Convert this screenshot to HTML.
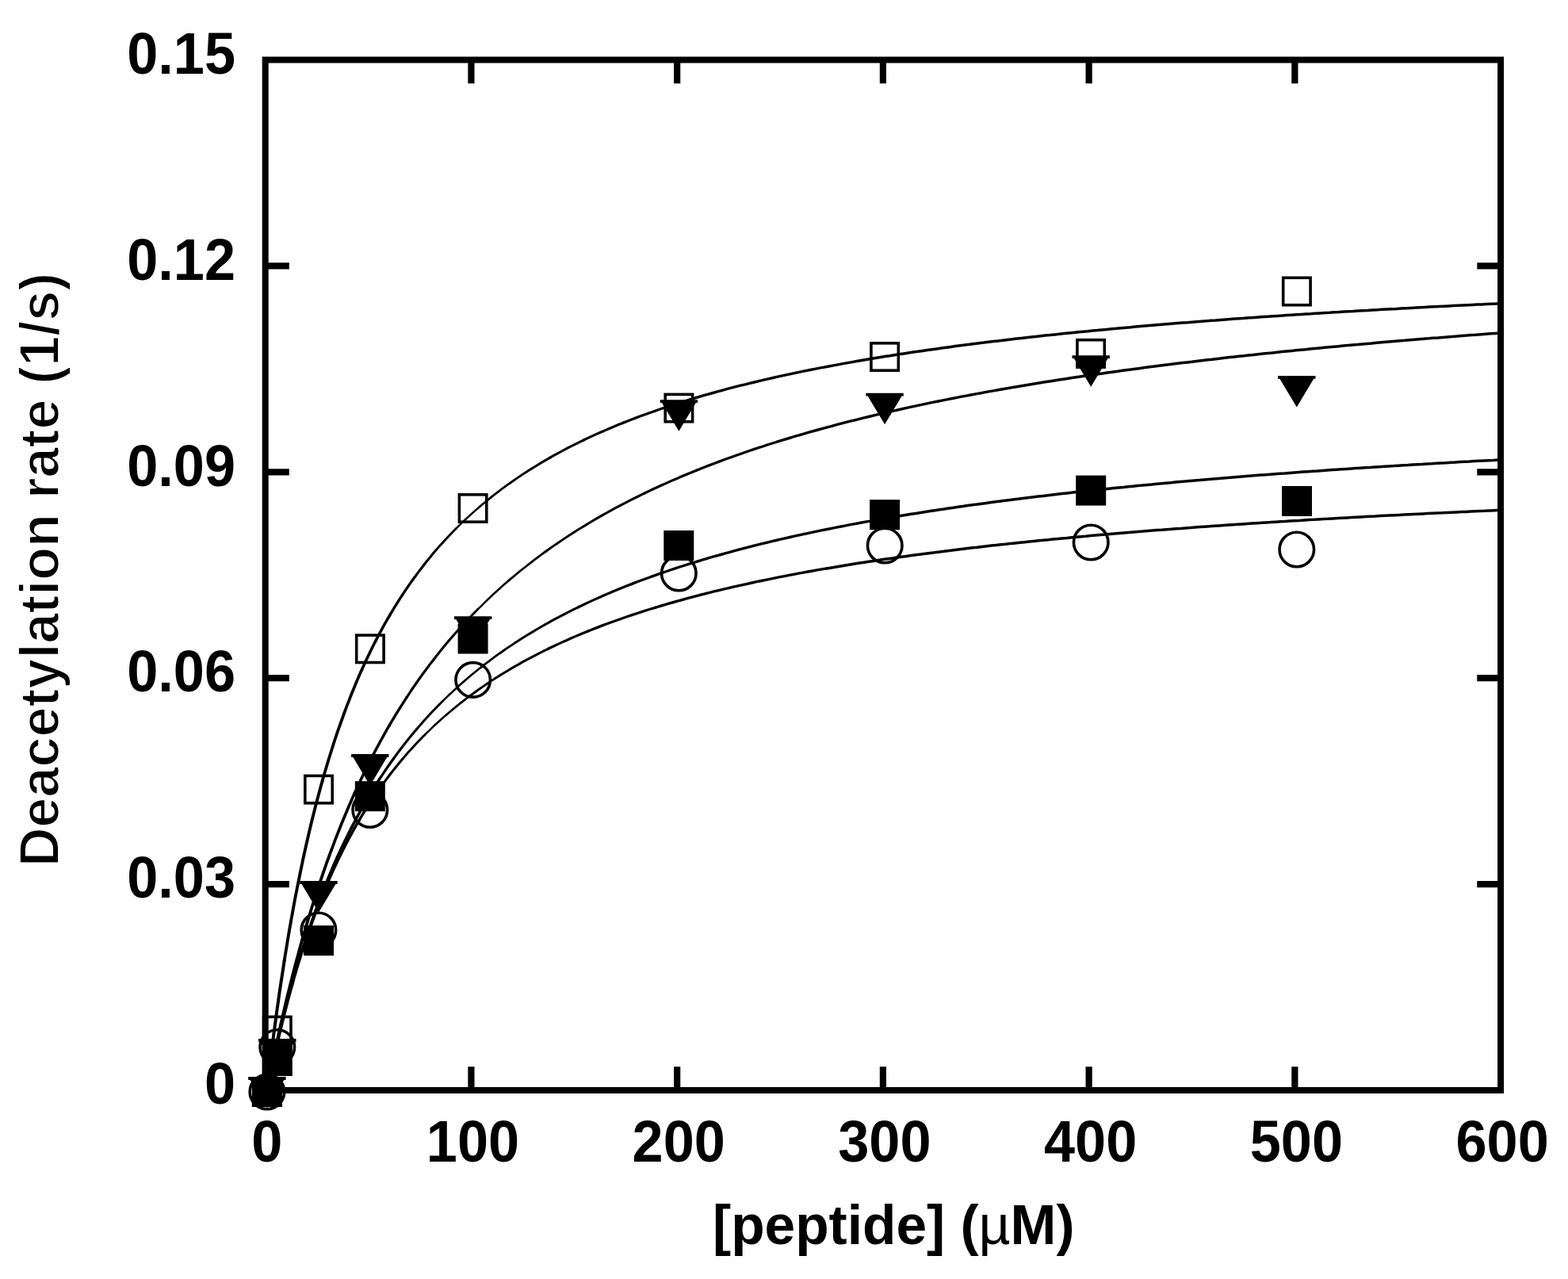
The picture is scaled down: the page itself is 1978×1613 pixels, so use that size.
<!DOCTYPE html>
<html><head><meta charset="utf-8"><title>Deacetylation rate vs peptide</title>
<style>html,body{margin:0;padding:0;background:#fff;width:1978px;height:1613px;overflow:hidden}svg{display:block}</style>
</head><body>
<svg width="1978" height="1613" viewBox="0 0 1978 1613">
<rect x="0" y="0" width="1978" height="1613" fill="#fff"/>
<g fill="none" stroke="#000" stroke-linecap="round">
<path stroke-width="2.5" d="M575.0 666.9L579.3 662.7M579.3 662.7L583.6 658.5M583.6 658.5L587.9 654.4M602.6 768.5L606.9 764.3M606.9 764.3L611.1 760.1M611.1 760.1L615.4 756.0M615.4 756.0L619.8 751.8M558.2 884.5L562.4 880.3M562.4 880.3L566.7 876.2M536.1 926.5L540.4 922.3M540.4 922.3L544.7 918.1M544.7 918.1L549.0 914.0"/>
<path stroke-width="2.6" d="M587.9 654.4L592.3 650.4M592.3 650.4L596.7 646.4M596.7 646.4L601.2 642.4M601.2 642.4L605.7 638.5M619.8 751.8L624.2 747.8M624.2 747.8L628.6 743.8M628.6 743.8L633.0 739.8M633.0 739.8L637.5 735.8M637.5 735.8L642.0 731.9M566.7 876.2L571.1 872.1M571.1 872.1L575.5 868.0M575.5 868.0L579.9 864.0M579.9 864.0L584.4 860.1M549.0 914.0L553.4 910.0M553.4 910.0L557.9 906.0M557.9 906.0L562.3 902.1"/>
<path stroke-width="2.7" d="M605.7 638.5L610.2 634.7M610.2 634.7L614.9 630.9M614.9 630.9L619.5 627.1M642.0 731.9L646.6 728.1M646.6 728.1L651.2 724.2M651.2 724.2L655.8 720.4M655.8 720.4L660.5 716.7M660.5 716.7L665.2 713.0M584.4 860.1L588.9 856.2M588.9 856.2L593.5 852.3M593.5 852.3L598.1 848.5M598.1 848.5L602.7 844.8M602.7 844.8L607.4 841.1M562.3 902.1L566.9 898.2M566.9 898.2L571.5 894.4M571.5 894.4L576.1 890.6M576.1 890.6L580.7 886.8"/>
<path stroke-width="2.8" d="M619.5 627.1L624.2 623.4M624.2 623.4L628.9 619.8M628.9 619.8L633.7 616.2M633.7 616.2L638.5 612.7M638.5 612.7L643.4 609.2M598.4 772.7L602.6 768.5M665.2 713.0L669.9 709.3M669.9 709.3L674.6 705.7M674.6 705.7L679.4 702.1M679.4 702.1L684.2 698.5M684.2 698.5L689.1 695.0M553.9 888.7L558.2 884.5M607.4 841.1L612.1 837.4M612.1 837.4L616.9 833.8M616.9 833.8L621.7 830.2M621.7 830.2L626.5 826.7M626.5 826.7L631.4 823.2M531.9 930.7L536.1 926.5M580.7 886.8L585.5 883.2M585.5 883.2L590.2 879.5M590.2 879.5L595.0 876.0M595.0 876.0L599.8 872.5"/>
<path stroke-width="2.9" d="M558.6 684.2L562.6 679.8M562.6 679.8L566.7 675.4M566.7 675.4L570.9 671.1M570.9 671.1L575.0 666.9M643.4 609.2L648.3 605.7M648.3 605.7L653.2 602.4M653.2 602.4L658.2 599.0M658.2 599.0L663.2 595.8M663.2 595.8L668.2 592.5M582.0 790.1L586.1 785.7M586.1 785.7L590.2 781.3M590.2 781.3L594.3 777.0M594.3 777.0L598.4 772.7M689.1 695.0L693.9 691.5M693.9 691.5L698.8 688.1M698.8 688.1L703.8 684.7M703.8 684.7L708.7 681.4M708.7 681.4L713.7 678.0M713.7 678.0L718.7 674.8M718.7 674.8L723.8 671.5M537.5 906.0L541.6 901.6M541.6 901.6L545.6 897.3M545.6 897.3L549.8 893.0M549.8 893.0L553.9 888.7M631.4 823.2L636.3 819.8M636.3 819.8L641.2 816.4M641.2 816.4L646.2 813.1M646.2 813.1L651.2 809.8M651.2 809.8L656.2 806.5M519.7 943.7L523.7 939.3M523.7 939.3L527.8 935.0M527.8 935.0L531.9 930.7M599.8 872.5L604.7 869.0M604.7 869.0L609.6 865.6M609.6 865.6L614.5 862.2M614.5 862.2L619.5 858.9M619.5 858.9L624.5 855.6"/>
<path stroke-width="3.0" d="M546.8 697.6L550.7 693.1M550.7 693.1L554.6 688.6M554.6 688.6L558.6 684.2M668.2 592.5L673.3 589.4M673.3 589.4L678.4 586.2M678.4 586.2L683.5 583.1M683.5 583.1L688.7 580.1M688.7 580.1L693.9 577.1M566.3 808.0L570.1 803.5M570.1 803.5L574.1 799.0M574.1 799.0L578.0 794.5M578.0 794.5L582.0 790.1M723.8 671.5L728.8 668.3M728.8 668.3L733.9 665.2M733.9 665.2L739.0 662.1M739.0 662.1L744.1 659.0M744.1 659.0L749.3 655.9M749.3 655.9L754.5 652.9M754.5 652.9L759.7 649.9M525.7 919.4L529.6 914.9M529.6 914.9L533.5 910.5M533.5 910.5L537.5 906.0M656.2 806.5L661.3 803.3M661.3 803.3L666.3 800.2M666.3 800.2L671.5 797.1M671.5 797.1L676.6 794.0M676.6 794.0L681.8 791.0M681.8 791.0L687.0 788.0M507.9 957.1L511.7 952.6M511.7 952.6L515.7 948.1M515.7 948.1L519.7 943.7M624.5 855.6L629.6 852.4M629.6 852.4L634.7 849.3M634.7 849.3L639.8 846.2M639.8 846.2L644.9 843.1M644.9 843.1L650.1 840.1M650.1 840.1L655.3 837.2"/>
<path stroke-width="3.1" d="M535.5 711.5L539.2 706.8M539.2 706.8L543.0 702.2M543.0 702.2L546.8 697.6M693.9 577.1L699.1 574.2M699.1 574.2L704.3 571.3M704.3 571.3L709.6 568.5M709.6 568.5L714.9 565.7M714.9 565.7L720.2 562.9M720.2 562.9L725.5 560.3M725.5 560.3L730.9 557.6M730.9 557.6L736.3 555.0M547.5 831.2L551.1 826.5M551.1 826.5L554.9 821.8M554.9 821.8L558.6 817.2M558.6 817.2L562.4 812.6M562.4 812.6L566.3 808.0M759.7 649.9L764.9 647.0M764.9 647.0L770.1 644.1M770.1 644.1L775.4 641.2M775.4 641.2L780.7 638.4M780.7 638.4L786.0 635.6M786.0 635.6L791.3 632.9M791.3 632.9L796.6 630.1M796.6 630.1L802.0 627.5M802.0 627.5L807.3 624.8M807.3 624.8L812.7 622.2M510.6 937.9L514.3 933.2M514.3 933.2L518.1 928.6M518.1 928.6L521.9 924.0M521.9 924.0L525.7 919.4M687.0 788.0L692.2 785.1M692.2 785.1L697.4 782.2M697.4 782.2L702.7 779.4M702.7 779.4L708.0 776.6M708.0 776.6L713.3 773.8M713.3 773.8L718.6 771.1M718.6 771.1L724.0 768.4M724.0 768.4L729.4 765.8M492.9 975.6L496.5 971.0M496.5 971.0L500.3 966.3M500.3 966.3L504.0 961.7M504.0 961.7L507.9 957.1M655.3 837.2L660.5 834.2M660.5 834.2L665.8 831.4M665.8 831.4L671.1 828.6M671.1 828.6L676.4 825.8M676.4 825.8L681.7 823.1M681.7 823.1L687.1 820.4M687.1 820.4L692.4 817.8"/>
<path stroke-width="3.2" d="M521.2 730.5L524.7 725.7M524.7 725.7L528.3 720.9M528.3 720.9L531.9 716.2M531.9 716.2L535.5 711.5M736.3 555.0L741.7 552.4M741.7 552.4L747.1 549.9M747.1 549.9L752.6 547.4M752.6 547.4L758.1 545.0M758.1 545.0L763.6 542.6M763.6 542.6L769.1 540.2M769.1 540.2L774.6 537.9M774.6 537.9L780.1 535.6M780.1 535.6L785.7 533.4M529.6 855.1L533.1 850.3M533.1 850.3L536.6 845.5M536.6 845.5L540.2 840.7M540.2 840.7L543.8 835.9M543.8 835.9L547.5 831.2M812.7 622.2L818.1 619.6M818.1 619.6L823.5 617.0M823.5 617.0L829.0 614.5M829.0 614.5L834.4 612.0M834.4 612.0L839.9 609.6M839.9 609.6L845.4 607.1M845.4 607.1L850.9 604.7M850.9 604.7L856.4 602.4M856.4 602.4L861.9 600.0M861.9 600.0L867.4 597.7M867.4 597.7L873.0 595.4M873.0 595.4L878.5 593.2M496.3 957.0L499.8 952.1M499.8 952.1L503.3 947.4M503.3 947.4L507.0 942.6M507.0 942.6L510.6 937.9M729.4 765.8L734.8 763.2M734.8 763.2L740.2 760.6M740.2 760.6L745.6 758.1M745.6 758.1L751.1 755.6M751.1 755.6L756.6 753.2M756.6 753.2L762.0 750.8M762.0 750.8L767.5 748.4M767.5 748.4L773.1 746.1M773.1 746.1L778.6 743.8M778.6 743.8L784.1 741.5M784.1 741.5L789.7 739.3M482.2 990.0L485.7 985.1M485.7 985.1L489.2 980.4M489.2 980.4L492.9 975.6M692.4 817.8L697.8 815.2M697.8 815.2L703.3 812.6M703.3 812.6L708.7 810.1M708.7 810.1L714.2 807.7M714.2 807.7L719.6 805.3M719.6 805.3L725.1 802.9M725.1 802.9L730.7 800.5M730.7 800.5L736.2 798.2M736.2 798.2L741.7 796.0"/>
<path stroke-width="3.3" d="M507.7 750.1L511.0 745.2M511.0 745.2L514.3 740.3M514.3 740.3L517.7 735.4M517.7 735.4L521.2 730.5M785.7 533.4L791.2 531.2M791.2 531.2L796.8 529.0M796.8 529.0L802.4 526.9M802.4 526.9L808.0 524.8M808.0 524.8L813.7 522.7M813.7 522.7L819.3 520.7M819.3 520.7L825.0 518.7M825.0 518.7L830.6 516.7M830.6 516.7L836.3 514.8M836.3 514.8L842.0 512.9M842.0 512.9L847.7 511.0M847.7 511.0L853.4 509.2M853.4 509.2L859.1 507.3M859.1 507.3L864.8 505.6M864.8 505.6L870.6 503.8M512.8 879.8L516.1 874.8M516.1 874.8L519.4 869.8M519.4 869.8L522.8 864.9M522.8 864.9L526.2 860.0M526.2 860.0L529.6 855.1M878.5 593.2L884.1 591.0M884.1 591.0L889.7 588.8M889.7 588.8L895.3 586.6M895.3 586.6L900.9 584.5M900.9 584.5L906.5 582.4M906.5 582.4L912.1 580.3M912.1 580.3L917.7 578.2M917.7 578.2L923.4 576.2M923.4 576.2L929.0 574.2M929.0 574.2L934.7 572.2M934.7 572.2L940.3 570.3M940.3 570.3L946.0 568.3M946.0 568.3L951.7 566.4M951.7 566.4L957.4 564.5M957.4 564.5L963.1 562.7M963.1 562.7L968.8 560.8M968.8 560.8L974.5 559.0M974.5 559.0L980.2 557.2M980.2 557.2L986.0 555.4M986.0 555.4L991.7 553.7M479.4 981.5L482.7 976.6M482.7 976.6L486.0 971.6M486.0 971.6L489.4 966.7M489.4 966.7L492.8 961.8M492.8 961.8L496.3 957.0M789.7 739.3L795.3 737.1M795.3 737.1L800.9 734.9M800.9 734.9L806.5 732.8M806.5 732.8L812.1 730.7M812.1 730.7L817.7 728.7M817.7 728.7L823.4 726.6M823.4 726.6L829.0 724.6M829.0 724.6L834.7 722.6M834.7 722.6L840.3 720.7M840.3 720.7L846.0 718.8M846.0 718.8L851.7 716.9M851.7 716.9L857.4 715.0M857.4 715.0L863.1 713.2M863.1 713.2L868.8 711.4M868.8 711.4L874.6 709.6M874.6 709.6L880.3 707.9M468.6 1009.6L471.9 1004.6M471.9 1004.6L475.3 999.7M475.3 999.7L478.7 994.8M478.7 994.8L482.2 990.0M741.7 796.0L747.3 793.8M747.3 793.8L752.9 791.6M752.9 791.6L758.5 789.4M758.5 789.4L764.1 787.3M764.1 787.3L769.7 785.2M769.7 785.2L775.3 783.2M775.3 783.2L781.0 781.2M781.0 781.2L786.6 779.2M786.6 779.2L792.3 777.3M792.3 777.3L798.0 775.4M798.0 775.4L803.7 773.5M803.7 773.5L809.4 771.6M809.4 771.6L815.1 769.8M815.1 769.8L820.8 768.0M820.8 768.0L826.6 766.3"/>
<path stroke-width="3.4" d="M492.0 775.4L495.0 770.3M495.0 770.3L498.1 765.2M498.1 765.2L501.3 760.1M501.3 760.1L504.4 755.1M504.4 755.1L507.7 750.1M870.6 503.8L876.3 502.1M876.3 502.1L882.1 500.4M882.1 500.4L887.8 498.7M887.8 498.7L893.6 497.1M893.6 497.1L899.4 495.5M899.4 495.5L905.1 493.9M905.1 493.9L910.9 492.3M910.9 492.3L916.7 490.7M916.7 490.7L922.5 489.2M922.5 489.2L928.3 487.7M928.3 487.7L934.1 486.2M934.1 486.2L940.0 484.8M940.0 484.8L945.8 483.4M945.8 483.4L951.6 482.0M951.6 482.0L957.4 480.6M957.4 480.6L963.3 479.2M963.3 479.2L969.1 477.8M969.1 477.8L975.0 476.5M975.0 476.5L980.8 475.2M980.8 475.2L986.7 473.9M986.7 473.9L992.5 472.6M992.5 472.6L998.4 471.4M998.4 471.4L1004.3 470.1M1004.3 470.1L1010.1 468.9M1010.1 468.9L1016.0 467.7M1016.0 467.7L1021.9 466.5M1021.9 466.5L1027.8 465.4M1027.8 465.4L1033.7 464.2M1033.7 464.2L1039.6 463.1M1039.6 463.1L1045.5 462.0M1045.5 462.0L1051.4 460.9M1051.4 460.9L1057.3 459.8M1057.3 459.8L1063.2 458.7M1063.2 458.7L1069.1 457.6M1069.1 457.6L1075.0 456.6M1075.0 456.6L1080.9 455.5M1080.9 455.5L1086.8 454.5M490.9 915.3L493.9 910.1M493.9 910.1L497.0 905.0M497.0 905.0L500.1 899.9M500.1 899.9L503.2 894.8M503.2 894.8L506.4 889.8M506.4 889.8L509.6 884.8M509.6 884.8L512.8 879.8M991.7 553.7L997.4 552.0M997.4 552.0L1003.2 550.2M1003.2 550.2L1008.9 548.6M1008.9 548.6L1014.7 546.9M1014.7 546.9L1020.5 545.2M1020.5 545.2L1026.2 543.6M1026.2 543.6L1032.0 542.0M1032.0 542.0L1037.8 540.4M1037.8 540.4L1043.6 538.8M1043.6 538.8L1049.4 537.3M1049.4 537.3L1055.2 535.7M1055.2 535.7L1061.0 534.2M1061.0 534.2L1066.8 532.7M1066.8 532.7L1072.6 531.2M1072.6 531.2L1078.4 529.8M1078.4 529.8L1084.2 528.3M1084.2 528.3L1090.0 526.9M1090.0 526.9L1095.9 525.5M1095.9 525.5L1101.7 524.1M1101.7 524.1L1107.5 522.7M1107.5 522.7L1113.4 521.3M1113.4 521.3L1119.2 520.0M1119.2 520.0L1125.1 518.6M1125.1 518.6L1130.9 517.3M1130.9 517.3L1136.8 516.0M1136.8 516.0L1142.6 514.7M1142.6 514.7L1148.5 513.4M1148.5 513.4L1154.4 512.2M1154.4 512.2L1160.2 510.9M1160.2 510.9L1166.1 509.7M1166.1 509.7L1172.0 508.4M1172.0 508.4L1177.8 507.2M1177.8 507.2L1183.7 506.0M1183.7 506.0L1189.6 504.8M1189.6 504.8L1195.5 503.7M1195.5 503.7L1201.4 502.5M1201.4 502.5L1207.3 501.3M1207.3 501.3L1213.1 500.2M1213.1 500.2L1219.0 499.1M1219.0 499.1L1224.9 498.0M1224.9 498.0L1230.8 496.9M1230.8 496.9L1236.7 495.8M1236.7 495.8L1242.6 494.7M1242.6 494.7L1248.5 493.6M1248.5 493.6L1254.4 492.6M1254.4 492.6L1260.3 491.5M1260.3 491.5L1266.2 490.5M1266.2 490.5L1272.2 489.5M1272.2 489.5L1278.1 488.4M463.7 1006.8L466.8 1001.7M466.8 1001.7L469.9 996.6M469.9 996.6L473.0 991.6M473.0 991.6L476.2 986.5M476.2 986.5L479.4 981.5M880.3 707.9L886.0 706.1M886.0 706.1L891.8 704.4M891.8 704.4L897.5 702.7M897.5 702.7L903.3 701.1M903.3 701.1L909.1 699.5M909.1 699.5L914.8 697.8M914.8 697.8L920.6 696.3M920.6 696.3L926.4 694.7M926.4 694.7L932.2 693.1M932.2 693.1L938.0 691.6M938.0 691.6L943.8 690.1M943.8 690.1L949.6 688.6M949.6 688.6L955.4 687.2M955.4 687.2L961.3 685.7M961.3 685.7L967.1 684.3M967.1 684.3L972.9 682.9M972.9 682.9L978.8 681.5M978.8 681.5L984.6 680.2M984.6 680.2L990.4 678.8M990.4 678.8L996.3 677.5M996.3 677.5L1002.2 676.2M1002.2 676.2L1008.0 674.9M1008.0 674.9L1013.9 673.6M1013.9 673.6L1019.7 672.4M1019.7 672.4L1025.6 671.1M1025.6 671.1L1031.5 669.9M1031.5 669.9L1037.3 668.7M1037.3 668.7L1043.2 667.5M1043.2 667.5L1049.1 666.3M1049.1 666.3L1055.0 665.1M1055.0 665.1L1060.9 664.0M1060.9 664.0L1066.8 662.9M1066.8 662.9L1072.7 661.7M1072.7 661.7L1078.6 660.6M1078.6 660.6L1084.5 659.5M1084.5 659.5L1090.4 658.4M1090.4 658.4L1096.3 657.4M1096.3 657.4L1102.2 656.3M1102.2 656.3L1108.1 655.3M1108.1 655.3L1114.0 654.2M1114.0 654.2L1119.9 653.2M452.9 1034.8L455.9 1029.7M455.9 1029.7L459.0 1024.6M459.0 1024.6L462.2 1019.6M462.2 1019.6L465.4 1014.5M465.4 1014.5L468.6 1009.6M826.6 766.3L832.3 764.5M832.3 764.5L838.0 762.8M838.0 762.8L843.8 761.1M843.8 761.1L849.6 759.5M849.6 759.5L855.3 757.9M855.3 757.9L861.1 756.3M861.1 756.3L866.9 754.7M866.9 754.7L872.7 753.1M872.7 753.1L878.5 751.6M878.5 751.6L884.3 750.1M884.3 750.1L890.1 748.6M890.1 748.6L895.9 747.2M895.9 747.2L901.7 745.7M901.7 745.7L907.6 744.3M907.6 744.3L913.4 742.9M913.4 742.9L919.2 741.6M919.2 741.6L925.1 740.2M925.1 740.2L930.9 738.9M930.9 738.9L936.8 737.6M936.8 737.6L942.6 736.3M942.6 736.3L948.5 735.0M948.5 735.0L954.4 733.7M954.4 733.7L960.2 732.5M960.2 732.5L966.1 731.3M966.1 731.3L972.0 730.1M972.0 730.1L977.9 728.9M977.9 728.9L983.8 727.7M983.8 727.7L989.6 726.6M989.6 726.6L995.5 725.4M995.5 725.4L1001.4 724.3M1001.4 724.3L1007.3 723.2M1007.3 723.2L1013.2 722.1M1013.2 722.1L1019.1 721.0M1019.1 721.0L1025.0 720.0M1025.0 720.0L1030.9 718.9M1030.9 718.9L1036.8 717.9M1036.8 717.9L1042.7 716.9"/>
<path stroke-width="3.5" d="M474.7 806.6L477.5 801.4M477.5 801.4L480.3 796.1M480.3 796.1L483.1 790.9M483.1 790.9L486.0 785.7M486.0 785.7L489.0 780.5M489.0 780.5L492.0 775.4M1086.8 454.5L1092.7 453.5M1092.7 453.5L1098.6 452.5M1098.6 452.5L1104.5 451.5M1104.5 451.5L1110.5 450.6M1110.5 450.6L1116.4 449.6M1116.4 449.6L1122.3 448.7M1122.3 448.7L1128.2 447.7M1128.2 447.7L1134.2 446.8M1134.2 446.8L1140.1 445.9M1140.1 445.9L1146.0 445.0M1146.0 445.0L1151.9 444.1M1151.9 444.1L1157.9 443.3M1157.9 443.3L1163.8 442.4M1163.8 442.4L1169.8 441.5M1169.8 441.5L1175.7 440.7M1175.7 440.7L1181.6 439.9M1181.6 439.9L1187.6 439.0M1187.6 439.0L1193.5 438.2M1193.5 438.2L1199.5 437.4M1199.5 437.4L1205.4 436.6M1205.4 436.6L1211.4 435.8M1211.4 435.8L1217.3 435.1M1217.3 435.1L1223.3 434.3M1223.3 434.3L1229.2 433.5M1229.2 433.5L1235.2 432.8M1235.2 432.8L1241.1 432.1M1241.1 432.1L1247.1 431.3M1247.1 431.3L1253.0 430.6M1253.0 430.6L1259.0 429.9M1259.0 429.9L1264.9 429.2M1264.9 429.2L1270.9 428.5M1270.9 428.5L1276.9 427.8M1276.9 427.8L1282.8 427.1M1282.8 427.1L1288.8 426.4M1288.8 426.4L1294.7 425.7M1294.7 425.7L1300.7 425.1M1300.7 425.1L1306.7 424.4M1306.7 424.4L1312.6 423.8M1312.6 423.8L1318.6 423.1M1318.6 423.1L1324.6 422.5M1324.6 422.5L1330.5 421.9M1330.5 421.9L1336.5 421.3M1336.5 421.3L1342.5 420.6M1342.5 420.6L1348.4 420.0M1348.4 420.0L1354.4 419.4M1354.4 419.4L1360.4 418.8M1360.4 418.8L1366.4 418.2M1366.4 418.2L1372.3 417.7M1372.3 417.7L1378.3 417.1M1378.3 417.1L1384.3 416.5M1384.3 416.5L1390.2 415.9M1390.2 415.9L1396.2 415.4M1396.2 415.4L1402.2 414.8M1402.2 414.8L1408.2 414.3M1408.2 414.3L1414.1 413.7M1414.1 413.7L1420.1 413.2M1420.1 413.2L1426.1 412.7M1426.1 412.7L1432.1 412.1M1432.1 412.1L1438.0 411.6M1438.0 411.6L1444.0 411.1M1444.0 411.1L1450.0 410.6M1450.0 410.6L1456.0 410.1M1456.0 410.1L1462.0 409.6M1462.0 409.6L1467.9 409.1M1467.9 409.1L1473.9 408.6M1473.9 408.6L1479.9 408.1M1479.9 408.1L1485.9 407.6M1485.9 407.6L1491.9 407.1M1491.9 407.1L1497.8 406.7M1497.8 406.7L1503.8 406.2M1503.8 406.2L1509.8 405.7M1509.8 405.7L1515.8 405.2M1515.8 405.2L1521.8 404.8M1521.8 404.8L1527.7 404.3M1527.7 404.3L1533.7 403.9M1533.7 403.9L1539.7 403.4M1539.7 403.4L1545.7 403.0M1545.7 403.0L1551.7 402.6M1551.7 402.6L1557.7 402.1M1557.7 402.1L1563.6 401.7M1563.6 401.7L1569.6 401.3M1569.6 401.3L1575.6 400.8M1575.6 400.8L1581.6 400.4M1581.6 400.4L1587.6 400.0M1587.6 400.0L1593.6 399.6M1593.6 399.6L1599.6 399.2M1599.6 399.2L1605.5 398.8M1605.5 398.8L1611.5 398.4M1611.5 398.4L1617.5 398.0M1617.5 398.0L1623.5 397.6M1623.5 397.6L1629.5 397.2M1629.5 397.2L1635.5 396.8M1635.5 396.8L1641.5 396.4M1641.5 396.4L1647.5 396.0M1647.5 396.0L1653.4 395.7M1653.4 395.7L1659.4 395.3M1659.4 395.3L1665.4 394.9M1665.4 394.9L1671.4 394.5M1671.4 394.5L1677.4 394.2M1677.4 394.2L1683.4 393.8M1683.4 393.8L1689.4 393.5M1689.4 393.5L1695.4 393.1M1695.4 393.1L1701.4 392.7M1701.4 392.7L1707.3 392.4M1707.3 392.4L1713.3 392.0M1713.3 392.0L1719.3 391.7M1719.3 391.7L1725.3 391.4M1725.3 391.4L1731.3 391.0M1731.3 391.0L1737.3 390.7M1737.3 390.7L1743.3 390.3M1743.3 390.3L1749.3 390.0M1749.3 390.0L1755.3 389.7M1755.3 389.7L1761.3 389.4M1761.3 389.4L1767.2 389.0M1767.2 389.0L1773.2 388.7M1773.2 388.7L1779.2 388.4M1779.2 388.4L1785.2 388.1M1785.2 388.1L1791.2 387.7M1791.2 387.7L1797.2 387.4M1797.2 387.4L1803.2 387.1M1803.2 387.1L1809.2 386.8M1809.2 386.8L1815.2 386.5M1815.2 386.5L1821.2 386.2M1821.2 386.2L1827.2 385.9M1827.2 385.9L1833.2 385.6M1833.2 385.6L1839.1 385.3M1839.1 385.3L1845.1 385.0M1845.1 385.0L1851.1 384.7M1851.1 384.7L1857.1 384.4M1857.1 384.4L1863.1 384.1M1863.1 384.1L1869.1 383.9M1869.1 383.9L1875.1 383.6M1875.1 383.6L1881.1 383.3M1881.1 383.3L1887.1 383.0M1887.1 383.0L1889.0 382.9M470.8 951.8L473.6 946.6M473.6 946.6L476.4 941.3M476.4 941.3L479.2 936.1M479.2 936.1L482.1 930.8M482.1 930.8L485.0 925.6M485.0 925.6L487.9 920.4M487.9 920.4L490.9 915.3M1278.1 488.4L1284.0 487.4M1284.0 487.4L1289.9 486.4M1289.9 486.4L1295.8 485.4M1295.8 485.4L1301.7 484.5M1301.7 484.5L1307.7 483.5M1307.7 483.5L1313.6 482.5M1313.6 482.5L1319.5 481.6M1319.5 481.6L1325.4 480.7M1325.4 480.7L1331.4 479.7M1331.4 479.7L1337.3 478.8M1337.3 478.8L1343.2 477.9M1343.2 477.9L1349.1 477.0M1349.1 477.0L1355.1 476.1M1355.1 476.1L1361.0 475.2M1361.0 475.2L1366.9 474.3M1366.9 474.3L1372.9 473.4M1372.9 473.4L1378.8 472.6M1378.8 472.6L1384.8 471.7M1384.8 471.7L1390.7 470.9M1390.7 470.9L1396.6 470.0M1396.6 470.0L1402.6 469.2M1402.6 469.2L1408.5 468.4M1408.5 468.4L1414.5 467.6M1414.5 467.6L1420.4 466.8M1420.4 466.8L1426.4 466.0M1426.4 466.0L1432.3 465.2M1432.3 465.2L1438.2 464.4M1438.2 464.4L1444.2 463.6M1444.2 463.6L1450.1 462.8M1450.1 462.8L1456.1 462.1M1456.1 462.1L1462.0 461.3M1462.0 461.3L1468.0 460.5M1468.0 460.5L1474.0 459.8M1474.0 459.8L1479.9 459.1M1479.9 459.1L1485.9 458.3M1485.9 458.3L1491.8 457.6M1491.8 457.6L1497.8 456.9M1497.8 456.9L1503.7 456.2M1503.7 456.2L1509.7 455.4M1509.7 455.4L1515.6 454.7M1515.6 454.7L1521.6 454.0M1521.6 454.0L1527.6 453.4M1527.6 453.4L1533.5 452.7M1533.5 452.7L1539.5 452.0M1539.5 452.0L1545.4 451.3M1545.4 451.3L1551.4 450.6M1551.4 450.6L1557.4 450.0M1557.4 450.0L1563.3 449.3M1563.3 449.3L1569.3 448.7M1569.3 448.7L1575.3 448.0M1575.3 448.0L1581.2 447.4M1581.2 447.4L1587.2 446.7M1587.2 446.7L1593.2 446.1M1593.2 446.1L1599.1 445.5M1599.1 445.5L1605.1 444.9M1605.1 444.9L1611.1 444.2M1611.1 444.2L1617.0 443.6M1617.0 443.6L1623.0 443.0M1623.0 443.0L1629.0 442.4M1629.0 442.4L1634.9 441.8M1634.9 441.8L1640.9 441.2M1640.9 441.2L1646.9 440.7M1646.9 440.7L1652.9 440.1M1652.9 440.1L1658.8 439.5M1658.8 439.5L1664.8 438.9M1664.8 438.9L1670.8 438.3M1670.8 438.3L1676.7 437.8M1676.7 437.8L1682.7 437.2M1682.7 437.2L1688.7 436.7M1688.7 436.7L1694.7 436.1M1694.7 436.1L1700.6 435.6M1700.6 435.6L1706.6 435.0M1706.6 435.0L1712.6 434.5M1712.6 434.5L1718.6 433.9M1718.6 433.9L1724.5 433.4M1724.5 433.4L1730.5 432.9M1730.5 432.9L1736.5 432.3M1736.5 432.3L1742.5 431.8M1742.5 431.8L1748.4 431.3M1748.4 431.3L1754.4 430.8M1754.4 430.8L1760.4 430.3M1760.4 430.3L1766.4 429.8M1766.4 429.8L1772.4 429.3M1772.4 429.3L1778.3 428.8M1778.3 428.8L1784.3 428.3M1784.3 428.3L1790.3 427.8M1790.3 427.8L1796.3 427.3M1796.3 427.3L1802.3 426.8M1802.3 426.8L1808.2 426.3M1808.2 426.3L1814.2 425.9M1814.2 425.9L1820.2 425.4M1820.2 425.4L1826.2 424.9M1826.2 424.9L1832.2 424.4M1832.2 424.4L1838.1 424.0M1838.1 424.0L1844.1 423.5M1844.1 423.5L1850.1 423.1M1850.1 423.1L1856.1 422.6M1856.1 422.6L1862.1 422.2M1862.1 422.2L1868.1 421.7M1868.1 421.7L1874.0 421.3M1874.0 421.3L1880.0 420.8M1880.0 420.8L1886.0 420.4M1886.0 420.4L1889.0 420.2M443.6 1043.4L446.4 1038.1M446.4 1038.1L449.2 1032.8M449.2 1032.8L452.0 1027.6M452.0 1027.6L454.9 1022.4M454.9 1022.4L457.8 1017.2M457.8 1017.2L460.7 1012.0M460.7 1012.0L463.7 1006.8M1119.9 653.2L1125.8 652.2M1125.8 652.2L1131.7 651.2M1131.7 651.2L1137.6 650.2M1137.6 650.2L1143.6 649.3M1143.6 649.3L1149.5 648.3M1149.5 648.3L1155.4 647.4M1155.4 647.4L1161.3 646.4M1161.3 646.4L1167.3 645.5M1167.3 645.5L1173.2 644.6M1173.2 644.6L1179.1 643.7M1179.1 643.7L1185.0 642.8M1185.0 642.8L1191.0 641.9M1191.0 641.9L1196.9 641.0M1196.9 641.0L1202.9 640.2M1202.9 640.2L1208.8 639.3M1208.8 639.3L1214.7 638.5M1214.7 638.5L1220.7 637.6M1220.7 637.6L1226.6 636.8M1226.6 636.8L1232.6 636.0M1232.6 636.0L1238.5 635.2M1238.5 635.2L1244.4 634.4M1244.4 634.4L1250.4 633.6M1250.4 633.6L1256.3 632.8M1256.3 632.8L1262.3 632.0M1262.3 632.0L1268.2 631.2M1268.2 631.2L1274.2 630.5M1274.2 630.5L1280.1 629.7M1280.1 629.7L1286.1 629.0M1286.1 629.0L1292.1 628.2M1292.1 628.2L1298.0 627.5M1298.0 627.5L1304.0 626.8M1304.0 626.8L1309.9 626.1M1309.9 626.1L1315.9 625.4M1315.9 625.4L1321.8 624.7M1321.8 624.7L1327.8 624.0M1327.8 624.0L1333.8 623.3M1333.8 623.3L1339.7 622.6M1339.7 622.6L1345.7 621.9M1345.7 621.9L1351.6 621.3M1351.6 621.3L1357.6 620.6M1357.6 620.6L1363.6 620.0M1363.6 620.0L1369.5 619.3M1369.5 619.3L1375.5 618.7M1375.5 618.7L1381.5 618.0M1381.5 618.0L1387.4 617.4M1387.4 617.4L1393.4 616.8M1393.4 616.8L1399.4 616.2M1399.4 616.2L1405.3 615.6M1405.3 615.6L1411.3 615.0M1411.3 615.0L1417.3 614.4M1417.3 614.4L1423.2 613.8M1423.2 613.8L1429.2 613.2M1429.2 613.2L1435.2 612.6M1435.2 612.6L1441.2 612.0M1441.2 612.0L1447.1 611.4M1447.1 611.4L1453.1 610.9M1453.1 610.9L1459.1 610.3M1459.1 610.3L1465.0 609.8M1465.0 609.8L1471.0 609.2M1471.0 609.2L1477.0 608.7M1477.0 608.7L1483.0 608.1M1483.0 608.1L1489.0 607.6M1489.0 607.6L1494.9 607.1M1494.9 607.1L1500.9 606.5M1500.9 606.5L1506.9 606.0M1506.9 606.0L1512.9 605.5M1512.9 605.5L1518.8 605.0M1518.8 605.0L1524.8 604.5M1524.8 604.5L1530.8 604.0M1530.8 604.0L1536.8 603.5M1536.8 603.5L1542.7 603.0M1542.7 603.0L1548.7 602.5M1548.7 602.5L1554.7 602.0M1554.7 602.0L1560.7 601.5M1560.7 601.5L1566.7 601.0M1566.7 601.0L1572.7 600.5M1572.7 600.5L1578.6 600.1M1578.6 600.1L1584.6 599.6M1584.6 599.6L1590.6 599.1M1590.6 599.1L1596.6 598.7M1596.6 598.7L1602.6 598.2M1602.6 598.2L1608.5 597.8M1608.5 597.8L1614.5 597.3M1614.5 597.3L1620.5 596.9M1620.5 596.9L1626.5 596.4M1626.5 596.4L1632.5 596.0M1632.5 596.0L1638.5 595.6M1638.5 595.6L1644.4 595.1M1644.4 595.1L1650.4 594.7M1650.4 594.7L1656.4 594.3M1656.4 594.3L1662.4 593.9M1662.4 593.9L1668.4 593.4M1668.4 593.4L1674.4 593.0M1674.4 593.0L1680.4 592.6M1680.4 592.6L1686.3 592.2M1686.3 592.2L1692.3 591.8M1692.3 591.8L1698.3 591.4M1698.3 591.4L1704.3 591.0M1704.3 591.0L1710.3 590.6M1710.3 590.6L1716.3 590.2M1716.3 590.2L1722.3 589.8M1722.3 589.8L1728.3 589.5M1728.3 589.5L1734.2 589.1M1734.2 589.1L1740.2 588.7M1740.2 588.7L1746.2 588.3M1746.2 588.3L1752.2 587.9M1752.2 587.9L1758.2 587.6M1758.2 587.6L1764.2 587.2M1764.2 587.2L1770.2 586.8M1770.2 586.8L1776.2 586.5M1776.2 586.5L1782.1 586.1M1782.1 586.1L1788.1 585.7M1788.1 585.7L1794.1 585.4M1794.1 585.4L1800.1 585.0M1800.1 585.0L1806.1 584.7M1806.1 584.7L1812.1 584.3M1812.1 584.3L1818.1 584.0M1818.1 584.0L1824.1 583.7M1824.1 583.7L1830.1 583.3M1830.1 583.3L1836.1 583.0M1836.1 583.0L1842.0 582.6M1842.0 582.6L1848.0 582.3M1848.0 582.3L1854.0 582.0M1854.0 582.0L1860.0 581.6M1860.0 581.6L1866.0 581.3M1866.0 581.3L1872.0 581.0M1872.0 581.0L1878.0 580.7M1878.0 580.7L1884.0 580.4M1884.0 580.4L1889.0 580.1M435.6 1066.0L438.4 1060.8M438.4 1060.8L441.2 1055.5M441.2 1055.5L444.0 1050.3M444.0 1050.3L446.9 1045.1M446.9 1045.1L449.9 1039.9M449.9 1039.9L452.9 1034.8M1042.7 716.9L1048.7 715.9M1048.7 715.9L1054.6 714.9M1054.6 714.9L1060.5 713.9M1060.5 713.9L1066.4 712.9M1066.4 712.9L1072.3 712.0M1072.3 712.0L1078.3 711.0M1078.3 711.0L1084.2 710.1M1084.2 710.1L1090.1 709.2M1090.1 709.2L1096.0 708.3M1096.0 708.3L1102.0 707.4M1102.0 707.4L1107.9 706.5M1107.9 706.5L1113.8 705.6M1113.8 705.6L1119.8 704.7M1119.8 704.7L1125.7 703.9M1125.7 703.9L1131.7 703.0M1131.7 703.0L1137.6 702.2M1137.6 702.2L1143.5 701.4M1143.5 701.4L1149.5 700.6M1149.5 700.6L1155.4 699.8M1155.4 699.8L1161.4 699.0M1161.4 699.0L1167.3 698.2M1167.3 698.2L1173.3 697.4M1173.3 697.4L1179.2 696.7M1179.2 696.7L1185.2 695.9M1185.2 695.9L1191.1 695.2M1191.1 695.2L1197.1 694.4M1197.1 694.4L1203.0 693.7M1203.0 693.7L1209.0 693.0M1209.0 693.0L1215.0 692.3M1215.0 692.3L1220.9 691.5M1220.9 691.5L1226.9 690.8M1226.9 690.8L1232.8 690.2M1232.8 690.2L1238.8 689.5M1238.8 689.5L1244.8 688.8M1244.8 688.8L1250.7 688.1M1250.7 688.1L1256.7 687.5M1256.7 687.5L1262.6 686.8M1262.6 686.8L1268.6 686.2M1268.6 686.2L1274.6 685.5M1274.6 685.5L1280.5 684.9M1280.5 684.9L1286.5 684.3M1286.5 684.3L1292.5 683.7M1292.5 683.7L1298.4 683.0M1298.4 683.0L1304.4 682.4M1304.4 682.4L1310.4 681.8M1310.4 681.8L1316.4 681.2M1316.4 681.2L1322.3 680.7M1322.3 680.7L1328.3 680.1M1328.3 680.1L1334.3 679.5M1334.3 679.5L1340.2 678.9M1340.2 678.9L1346.2 678.4M1346.2 678.4L1352.2 677.8M1352.2 677.8L1358.2 677.3M1358.2 677.3L1364.1 676.7M1364.1 676.7L1370.1 676.2M1370.1 676.2L1376.1 675.6M1376.1 675.6L1382.1 675.1M1382.1 675.1L1388.0 674.6M1388.0 674.6L1394.0 674.1M1394.0 674.1L1400.0 673.5M1400.0 673.5L1406.0 673.0M1406.0 673.0L1412.0 672.5M1412.0 672.5L1417.9 672.0M1417.9 672.0L1423.9 671.5M1423.9 671.5L1429.9 671.0M1429.9 671.0L1435.9 670.5M1435.9 670.5L1441.9 670.1M1441.9 670.1L1447.8 669.6M1447.8 669.6L1453.8 669.1M1453.8 669.1L1459.8 668.6M1459.8 668.6L1465.8 668.2M1465.8 668.2L1471.8 667.7M1471.8 667.7L1477.7 667.3M1477.7 667.3L1483.7 666.8M1483.7 666.8L1489.7 666.4M1489.7 666.4L1495.7 665.9M1495.7 665.9L1501.7 665.5M1501.7 665.5L1507.7 665.0M1507.7 665.0L1513.6 664.6M1513.6 664.6L1519.6 664.2M1519.6 664.2L1525.6 663.8M1525.6 663.8L1531.6 663.3M1531.6 663.3L1537.6 662.9M1537.6 662.9L1543.6 662.5M1543.6 662.5L1549.6 662.1M1549.6 662.1L1555.5 661.7M1555.5 661.7L1561.5 661.3M1561.5 661.3L1567.5 660.9M1567.5 660.9L1573.5 660.5M1573.5 660.5L1579.5 660.1M1579.5 660.1L1585.5 659.7M1585.5 659.7L1591.5 659.3M1591.5 659.3L1597.4 658.9M1597.4 658.9L1603.4 658.6M1603.4 658.6L1609.4 658.2M1609.4 658.2L1615.4 657.8M1615.4 657.8L1621.4 657.5M1621.4 657.5L1627.4 657.1M1627.4 657.1L1633.4 656.7M1633.4 656.7L1639.4 656.4M1639.4 656.4L1645.4 656.0M1645.4 656.0L1651.3 655.6M1651.3 655.6L1657.3 655.3M1657.3 655.3L1663.3 654.9M1663.3 654.9L1669.3 654.6M1669.3 654.6L1675.3 654.3M1675.3 654.3L1681.3 653.9M1681.3 653.9L1687.3 653.6M1687.3 653.6L1693.3 653.2M1693.3 653.2L1699.3 652.9M1699.3 652.9L1705.3 652.6M1705.3 652.6L1711.2 652.2M1711.2 652.2L1717.2 651.9M1717.2 651.9L1723.2 651.6M1723.2 651.6L1729.2 651.3M1729.2 651.3L1735.2 651.0M1735.2 651.0L1741.2 650.6M1741.2 650.6L1747.2 650.3M1747.2 650.3L1753.2 650.0M1753.2 650.0L1759.2 649.7M1759.2 649.7L1765.2 649.4M1765.2 649.4L1771.2 649.1M1771.2 649.1L1777.2 648.8M1777.2 648.8L1783.2 648.5M1783.2 648.5L1789.1 648.2M1789.1 648.2L1795.1 647.9M1795.1 647.9L1801.1 647.6M1801.1 647.6L1807.1 647.3M1807.1 647.3L1813.1 647.0M1813.1 647.0L1819.1 646.8M1819.1 646.8L1825.1 646.5M1825.1 646.5L1831.1 646.2M1831.1 646.2L1837.1 645.9M1837.1 645.9L1843.1 645.6M1843.1 645.6L1849.1 645.4M1849.1 645.4L1855.1 645.1M1855.1 645.1L1861.1 644.8M1861.1 644.8L1867.1 644.5M1867.1 644.5L1873.1 644.3M1873.1 644.3L1879.0 644.0M1879.0 644.0L1885.0 643.7M1885.0 643.7L1889.0 643.6"/>
<path stroke-width="3.6" d="M456.6 844.2L459.1 838.7M459.1 838.7L461.6 833.3M461.6 833.3L464.1 828.0M464.1 828.0L466.7 822.6M466.7 822.6L469.3 817.3M469.3 817.3L472.0 811.9M472.0 811.9L474.7 806.6M447.4 1000.1L449.9 994.7M449.9 994.7L452.4 989.3M452.4 989.3L454.9 983.9M454.9 983.9L457.5 978.5M457.5 978.5L460.1 973.2M460.1 973.2L462.7 967.8M462.7 967.8L465.4 962.5M465.4 962.5L468.1 957.1M468.1 957.1L470.8 951.8M425.6 1080.9L428.0 1075.5M428.0 1075.5L430.5 1070.1M430.5 1070.1L433.1 1064.7M433.1 1064.7L435.7 1059.3M435.7 1059.3L438.3 1054.0M438.3 1054.0L440.9 1048.7M440.9 1048.7L443.6 1043.4M417.5 1103.6L420.0 1098.1M420.0 1098.1L422.5 1092.7M422.5 1092.7L425.0 1087.4M425.0 1087.4L427.6 1082.0M427.6 1082.0L430.2 1076.7M430.2 1076.7L432.9 1071.3M432.9 1071.3L435.6 1066.0"/>
<path stroke-width="3.7" d="M434.2 899.3L436.3 893.7M436.3 893.7L438.4 888.1M438.4 888.1L440.6 882.6M440.6 882.6L442.7 877.0M442.7 877.0L445.0 871.5M445.0 871.5L447.2 866.0M447.2 866.0L449.5 860.5M449.5 860.5L451.8 855.1M451.8 855.1L454.2 849.6M454.2 849.6L456.6 844.2M418.1 1071.9L420.2 1066.3M420.2 1066.3L422.3 1060.7M422.3 1060.7L424.4 1055.1M424.4 1055.1L426.6 1049.6M426.6 1049.6L428.8 1044.0M428.8 1044.0L431.0 1038.5M431.0 1038.5L433.3 1033.0M433.3 1033.0L435.6 1027.5M435.6 1027.5L437.9 1022.0M437.9 1022.0L440.2 1016.5M440.2 1016.5L442.6 1011.0M442.6 1011.0L445.0 1005.6M445.0 1005.6L447.4 1000.1M400.8 1141.5L402.8 1135.9M402.8 1135.9L405.0 1130.4M405.0 1130.4L407.1 1124.8M407.1 1124.8L409.3 1119.3M409.3 1119.3L411.5 1113.8M411.5 1113.8L413.8 1108.2M413.8 1108.2L416.1 1102.7M416.1 1102.7L418.4 1097.3M418.4 1097.3L420.7 1091.8M420.7 1091.8L423.1 1086.3M423.1 1086.3L425.6 1080.9M395.2 1158.7L397.2 1153.1M397.2 1153.1L399.3 1147.5M399.3 1147.5L401.5 1142.0M401.5 1142.0L403.7 1136.4M403.7 1136.4L405.9 1130.9M405.9 1130.9L408.1 1125.4M408.1 1125.4L410.4 1119.9M410.4 1119.9L412.8 1114.5M412.8 1114.5L415.1 1109.0M415.1 1109.0L417.5 1103.6"/>
<path stroke-width="3.8" d="M406.8 984.2L408.4 978.5M408.4 978.5L410.1 972.8M410.1 972.8L411.8 967.1M411.8 967.1L413.5 961.4M413.5 961.4L415.2 955.7M415.2 955.7L417.0 950.0M417.0 950.0L418.8 944.3M418.8 944.3L420.6 938.6M420.6 938.6L422.4 933.0M422.4 933.0L424.3 927.3M424.3 927.3L426.2 921.7M426.2 921.7L428.2 916.1M428.2 916.1L430.2 910.5M430.2 910.5L432.2 904.9M432.2 904.9L434.2 899.3M381.2 1185.3L382.9 1179.5M382.9 1179.5L384.5 1173.8M384.5 1173.8L386.2 1168.1M386.2 1168.1L387.9 1162.4M387.9 1162.4L389.6 1156.6M389.6 1156.6L391.4 1150.9M391.4 1150.9L393.1 1145.2M393.1 1145.2L394.9 1139.5M394.9 1139.5L396.7 1133.9M396.7 1133.9L398.5 1128.2M398.5 1128.2L400.4 1122.5M400.4 1122.5L402.2 1116.9M402.2 1116.9L404.1 1111.2M404.1 1111.2L406.1 1105.6M406.1 1105.6L408.0 1099.9M408.0 1099.9L410.0 1094.3M410.0 1094.3L411.9 1088.7M411.9 1088.7L414.0 1083.0M414.0 1083.0L416.0 1077.4M416.0 1077.4L418.1 1071.9M369.6 1237.8L371.2 1232.1M371.2 1232.1L372.9 1226.4M372.9 1226.4L374.5 1220.7M374.5 1220.7L376.2 1214.9M376.2 1214.9L378.0 1209.2M378.0 1209.2L379.7 1203.6M379.7 1203.6L381.5 1197.9M381.5 1197.9L383.3 1192.2M383.3 1192.2L385.1 1186.5M385.1 1186.5L387.0 1180.9M387.0 1180.9L388.9 1175.2M388.9 1175.2L390.8 1169.6M390.8 1169.6L392.7 1163.9M392.7 1163.9L394.7 1158.3M394.7 1158.3L396.7 1152.7M396.7 1152.7L398.7 1147.1M398.7 1147.1L400.8 1141.5M367.8 1243.6L369.5 1237.9M369.5 1237.9L371.1 1232.2M371.1 1232.2L372.8 1226.5M372.8 1226.5L374.5 1220.8M374.5 1220.8L376.2 1215.1M376.2 1215.1L378.0 1209.4M378.0 1209.4L379.8 1203.7M379.8 1203.7L381.6 1198.1M381.6 1198.1L383.4 1192.4M383.4 1192.4L385.3 1186.7M385.3 1186.7L387.2 1181.1M387.2 1181.1L389.2 1175.5M389.2 1175.5L391.1 1169.9M391.1 1169.9L393.1 1164.3M393.1 1164.3L395.2 1158.7"/>
<path stroke-width="3.9" d="M358.7 1211.4L359.6 1205.5M359.6 1205.5L360.6 1199.6M360.6 1199.6L361.6 1193.7M361.6 1193.7L362.5 1187.9M362.5 1187.9L363.5 1182.0M363.5 1182.0L364.5 1176.1M364.5 1176.1L365.5 1170.2M365.5 1170.2L366.6 1164.4M366.6 1164.4L367.6 1158.5M367.6 1158.5L368.7 1152.6M368.7 1152.6L369.7 1146.8M369.7 1146.8L370.8 1140.9M370.8 1140.9L371.9 1135.0M371.9 1135.0L373.0 1129.2M373.0 1129.2L374.2 1123.3M374.2 1123.3L375.3 1117.5M375.3 1117.5L376.5 1111.6M376.5 1111.6L377.7 1105.8M377.7 1105.8L378.9 1100.0M378.9 1100.0L380.1 1094.1M380.1 1094.1L381.3 1088.3M381.3 1088.3L382.5 1082.5M382.5 1082.5L383.8 1076.7M383.8 1076.7L385.1 1070.8M385.1 1070.8L386.4 1065.0M386.4 1065.0L387.7 1059.2M387.7 1059.2L389.1 1053.4M389.1 1053.4L390.4 1047.6M390.4 1047.6L391.8 1041.8M391.8 1041.8L393.2 1036.0M393.2 1036.0L394.6 1030.3M394.6 1030.3L396.1 1024.5M396.1 1024.5L397.5 1018.7M397.5 1018.7L399.0 1012.9M399.0 1012.9L400.5 1007.2M400.5 1007.2L402.1 1001.4M402.1 1001.4L403.6 995.7M403.6 995.7L405.2 989.9M405.2 989.9L406.8 984.2M336.5 1376.9L337.6 1371.1M337.6 1371.1L338.8 1365.2M338.8 1365.2L339.9 1359.4M339.9 1359.4L341.1 1353.5M341.1 1353.5L342.3 1347.7M342.3 1347.7L343.5 1341.8M343.5 1341.8L344.7 1336.0M344.7 1336.0L345.9 1330.1M345.9 1330.1L347.1 1324.3M347.1 1324.3L348.4 1318.5M348.4 1318.5L349.6 1312.6M349.6 1312.6L350.9 1306.8M350.9 1306.8L352.2 1301.0M352.2 1301.0L353.5 1295.1M353.5 1295.1L354.8 1289.3M354.8 1289.3L356.2 1283.5M356.2 1283.5L357.5 1277.7M357.5 1277.7L358.9 1271.9M358.9 1271.9L360.2 1266.1M360.2 1266.1L361.6 1260.3M361.6 1260.3L363.0 1254.5M363.0 1254.5L364.5 1248.7M364.5 1248.7L365.9 1242.9M365.9 1242.9L367.4 1237.1M367.4 1237.1L368.8 1231.3M368.8 1231.3L370.3 1225.6M370.3 1225.6L371.8 1219.8M371.8 1219.8L373.3 1214.0M373.3 1214.0L374.9 1208.3M374.9 1208.3L376.5 1202.5M376.5 1202.5L378.0 1196.7M378.0 1196.7L379.6 1191.0M379.6 1191.0L381.2 1185.3M336.5 1377.0L337.7 1371.1M337.7 1371.1L338.9 1365.3M338.9 1365.3L340.1 1359.4M340.1 1359.4L341.3 1353.6M341.3 1353.6L342.6 1347.8M342.6 1347.8L343.8 1341.9M343.8 1341.9L345.1 1336.1M345.1 1336.1L346.4 1330.3M346.4 1330.3L347.7 1324.5M347.7 1324.5L349.0 1318.7M349.0 1318.7L350.4 1312.9M350.4 1312.9L351.7 1307.1M351.7 1307.1L353.1 1301.3M353.1 1301.3L354.5 1295.5M354.5 1295.5L355.9 1289.7M355.9 1289.7L357.4 1283.9M357.4 1283.9L358.8 1278.1M358.8 1278.1L360.3 1272.3M360.3 1272.3L361.8 1266.6M361.8 1266.6L363.3 1260.8M363.3 1260.8L364.8 1255.1M364.8 1255.1L366.4 1249.3M366.4 1249.3L368.0 1243.6M368.0 1243.6L369.6 1237.8M336.5 1376.9L337.7 1371.1M337.7 1371.1L338.8 1365.3M338.8 1365.3L340.0 1359.4M340.0 1359.4L341.2 1353.6M341.2 1353.6L342.5 1347.8M342.5 1347.8L343.7 1341.9M343.7 1341.9L344.9 1336.1M344.9 1336.1L346.2 1330.3M346.2 1330.3L347.5 1324.5M347.5 1324.5L348.8 1318.7M348.8 1318.7L350.2 1312.9M350.2 1312.9L351.5 1307.1M351.5 1307.1L352.9 1301.3M352.9 1301.3L354.3 1295.5M354.3 1295.5L355.7 1289.7M355.7 1289.7L357.1 1283.9M357.1 1283.9L358.6 1278.1M358.6 1278.1L360.1 1272.4M360.1 1272.4L361.6 1266.6M361.6 1266.6L363.1 1260.9M363.1 1260.9L364.7 1255.1M364.7 1255.1L366.2 1249.4M366.2 1249.4L367.8 1243.6"/>
<path stroke-width="4.0" d="M336.5 1376.9L337.2 1371.0M337.2 1371.0L337.9 1365.1M337.9 1365.1L338.6 1359.1M338.6 1359.1L339.3 1353.2M339.3 1353.2L340.0 1347.3M340.0 1347.3L340.7 1341.4M340.7 1341.4L341.4 1335.4M341.4 1335.4L342.1 1329.5M342.1 1329.5L342.9 1323.6M342.9 1323.6L343.6 1317.7M343.6 1317.7L344.4 1311.8M344.4 1311.8L345.1 1305.8M345.1 1305.8L345.9 1299.9M345.9 1299.9L346.7 1294.0M346.7 1294.0L347.5 1288.1M347.5 1288.1L348.3 1282.2M348.3 1282.2L349.1 1276.3M349.1 1276.3L349.9 1270.4M349.9 1270.4L350.8 1264.5M350.8 1264.5L351.6 1258.6M351.6 1258.6L352.4 1252.7M352.4 1252.7L353.3 1246.8M353.3 1246.8L354.2 1240.9M354.2 1240.9L355.1 1235.0M355.1 1235.0L356.0 1229.1M356.0 1229.1L356.9 1223.2M356.9 1223.2L357.8 1217.3M357.8 1217.3L358.7 1211.4"/>
</g>
<g fill="none" stroke="#000" stroke-width="3.60">
<rect x="319.70" y="1359.80" width="34.40" height="34.40"/>
<rect x="332.60" y="1282.40" width="34.40" height="34.40"/>
<rect x="384.80" y="978.40" width="34.40" height="34.40"/>
<rect x="449.70" y="801.10" width="34.40" height="34.40"/>
<rect x="579.40" y="623.80" width="34.40" height="34.40"/>
<rect x="839.20" y="497.40" width="34.40" height="34.40"/>
<rect x="1098.90" y="432.80" width="34.40" height="34.40"/>
<rect x="1358.90" y="428.70" width="34.40" height="34.40"/>
<rect x="1618.70" y="350.30" width="34.40" height="34.40"/>
<circle cx="336.90" cy="1377.00" r="21.75"/>
<circle cx="349.80" cy="1320.50" r="21.75"/>
<circle cx="401.90" cy="1173.00" r="21.75"/>
<circle cx="466.80" cy="1021.50" r="21.75"/>
<circle cx="596.70" cy="857.40" r="21.75"/>
<circle cx="856.30" cy="723.00" r="21.75"/>
<circle cx="1116.20" cy="688.00" r="21.75"/>
<circle cx="1376.20" cy="684.00" r="21.75"/>
<circle cx="1635.80" cy="693.00" r="21.75"/>
</g>
<g fill="#000">
<rect x="317.90" y="1358.00" width="38.00" height="38.00"/>
<rect x="330.80" y="1319.00" width="38.00" height="38.00"/>
<rect x="383.00" y="1167.20" width="38.00" height="38.00"/>
<rect x="447.80" y="985.20" width="38.00" height="38.00"/>
<rect x="577.60" y="786.50" width="38.00" height="38.00"/>
<rect x="837.30" y="669.00" width="38.00" height="38.00"/>
<rect x="1097.10" y="630.20" width="38.00" height="38.00"/>
<rect x="1357.20" y="599.60" width="38.00" height="38.00"/>
<rect x="1617.00" y="613.00" width="38.00" height="38.00"/>
<polygon points="313.20,1358.00 360.60,1358.00 360.60,1361.90 358.30,1361.90 336.90,1397.60 315.50,1361.90 313.20,1361.90"/>
<polygon points="326.10,1310.00 373.50,1310.00 373.50,1313.90 371.20,1313.90 349.80,1349.60 328.40,1313.90 326.10,1313.90"/>
<polygon points="378.30,1111.10 425.70,1111.10 425.70,1115.00 423.40,1115.00 402.00,1150.70 380.60,1115.00 378.30,1115.00"/>
<polygon points="443.10,951.10 490.50,951.10 490.50,955.00 488.20,955.00 466.80,990.70 445.40,955.00 443.10,955.00"/>
<polygon points="573.00,777.20 620.40,777.20 620.40,781.10 618.10,781.10 596.70,816.80 575.30,781.10 573.00,781.10"/>
<polygon points="832.70,504.20 880.10,504.20 880.10,508.10 877.80,508.10 856.40,543.80 835.00,508.10 832.70,508.10"/>
<polygon points="1092.40,495.70 1139.80,495.70 1139.80,499.60 1137.50,499.60 1116.10,535.30 1094.70,499.60 1092.40,499.60"/>
<polygon points="1352.50,448.20 1399.90,448.20 1399.90,452.10 1397.60,452.10 1376.20,487.80 1354.80,452.10 1352.50,452.10"/>
<polygon points="1612.10,473.90 1659.50,473.90 1659.50,477.80 1657.20,477.80 1635.80,513.50 1614.40,477.80 1612.10,477.80"/>
</g>
<rect x="334.70" y="75.50" width="1558.40" height="1299.50" fill="none" stroke="#000" stroke-width="8"/>
<path d="M594.43 1375.00V1345.30M594.43 75.50V105.20M854.17 1375.00V1345.30M854.17 75.50V105.20M1113.90 1375.00V1345.30M1113.90 75.50V105.20M1373.63 1375.00V1345.30M1373.63 75.50V105.20M1633.37 1375.00V1345.30M1633.37 75.50V105.20M334.70 1115.10H364.80M1893.10 1115.10H1863.30M334.70 855.20H364.80M1893.10 855.20H1863.30M334.70 595.30H364.80M1893.10 595.30H1863.30M334.70 335.40H364.80M1893.10 335.40H1863.30" stroke="#000" stroke-width="8.2" fill="none"/>
<g font-family="&quot;Liberation Sans&quot;, Arial, sans-serif" font-weight="bold" fill="#000">
<text font-size="74" text-anchor="end" transform="translate(297,1392.20) scale(0.95,1)">0</text>
<text font-size="74" text-anchor="end" transform="translate(297,1132.30) scale(0.95,1)">0.03</text>
<text font-size="74" text-anchor="end" transform="translate(297,872.40) scale(0.95,1)">0.06</text>
<text font-size="74" text-anchor="end" transform="translate(297,612.50) scale(0.95,1)">0.09</text>
<text font-size="74" text-anchor="end" transform="translate(297,352.60) scale(0.95,1)">0.12</text>
<text font-size="74" text-anchor="end" transform="translate(297,92.70) scale(0.95,1)">0.15</text>
<text font-size="74" text-anchor="middle" transform="translate(336.70,1465) scale(0.95,1)">0</text>
<text font-size="74" text-anchor="middle" transform="translate(596.43,1465) scale(0.95,1)">100</text>
<text font-size="74" text-anchor="middle" transform="translate(856.17,1465) scale(0.95,1)">200</text>
<text font-size="74" text-anchor="middle" transform="translate(1115.90,1465) scale(0.95,1)">300</text>
<text font-size="74" text-anchor="middle" transform="translate(1375.63,1465) scale(0.95,1)">400</text>
<text font-size="74" text-anchor="middle" transform="translate(1635.37,1465) scale(0.95,1)">500</text>
<text font-size="74" text-anchor="middle" transform="translate(1895.10,1465) scale(0.95,1)">600</text>
<text font-size="71" text-anchor="middle" transform="translate(1127.3,1569.2) scale(0.978,1)">[peptide] (<tspan font-weight="normal">&#181;</tspan>M)</text>
<text font-size="71" text-anchor="middle" stroke="#fff" stroke-width="1.8" transform="translate(74.2,718.45) rotate(-90) scale(0.964,1)">Deacetylation rate (1/s)</text>
</g>
</svg>
</body></html>
